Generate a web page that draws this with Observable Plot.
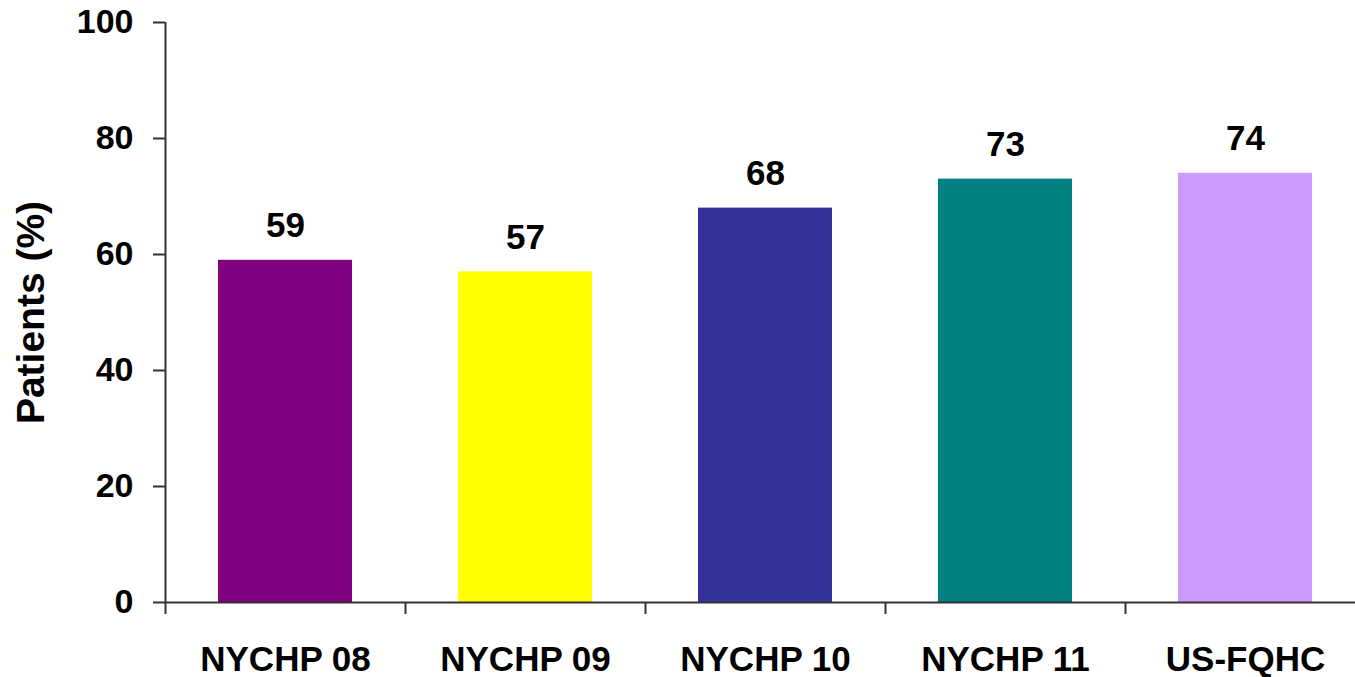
<!DOCTYPE html>
<html><head><meta charset="utf-8">
<script src="https://cdn.jsdelivr.net/npm/d3@7"></script>
<script src="https://cdn.jsdelivr.net/npm/@observablehq/plot@0.6"></script>
<style>body{margin:0;background:#fff}</style>
</head><body><div id="chart"></div>
<script>
const categories = ["NYCHP 08", "NYCHP 09", "NYCHP 10", "NYCHP 11", "US-FQHC"];
const values = [59, 57, 68, 73, 74];
const barColors = ["#800080", "#FFFF00", "#333399", "#008080", "#CC99FF"];
const yTicks = [0, 20, 40, 60, 80, 100];
const yLabel = "Patients (%)";

const data = categories.map((c, i) => ({category: c, value: values[i]}));
const axisColor = "#333";

const chart = Plot.plot({
  width: 1355,
  height: 677,
  marginLeft: 165,
  marginRight: 0,
  marginTop: 22,
  marginBottom: 75,
  style: {fontFamily: "'Liberation Sans', Arial, sans-serif", fontSize: "34px", fontWeight: "bold", color: "#000", background: "#fff"},
  x: {domain: categories, range: [165, 1365], padding: 0, label: null},
  y: {domain: [0, 100], label: null},
  color: {domain: categories, range: barColors},
  marks: [
    Plot.barY(data, {x: "category", y: "value", fill: "category", insetLeft: 53, insetRight: 53}),
    Plot.ruleY([0], {stroke: axisColor, strokeWidth: 2}),
    Plot.ruleX([categories[0]], {x: d => d, y1: 0, y2: 100, dx: -120, stroke: axisColor, strokeWidth: 2}),
    Plot.ruleX(categories, {x: d => d, y1: 0, y2: 0, insetBottom: -12, dx: -120, stroke: axisColor, strokeWidth: 2}),
    Plot.axisY({ticks: yTicks, tickSize: 12, tickPadding: 20, stroke: axisColor, strokeWidth: 2, label: null}),
    Plot.axisX({tickSize: 0, tickPadding: 44, fontSize: 35, label: null}),
    Plot.text(data, {x: "category", y: "value", text: d => String(d.value), dy: -23, lineAnchor: "bottom", fontSize: 35}),
    Plot.text([yLabel], {text: d => d, frameAnchor: "left", textAnchor: "middle", lineAnchor: "middle", rotate: -90, dx: -134, fontSize: 39})
  ]
});
document.getElementById("chart").appendChild(chart);
</script>
</body></html>
